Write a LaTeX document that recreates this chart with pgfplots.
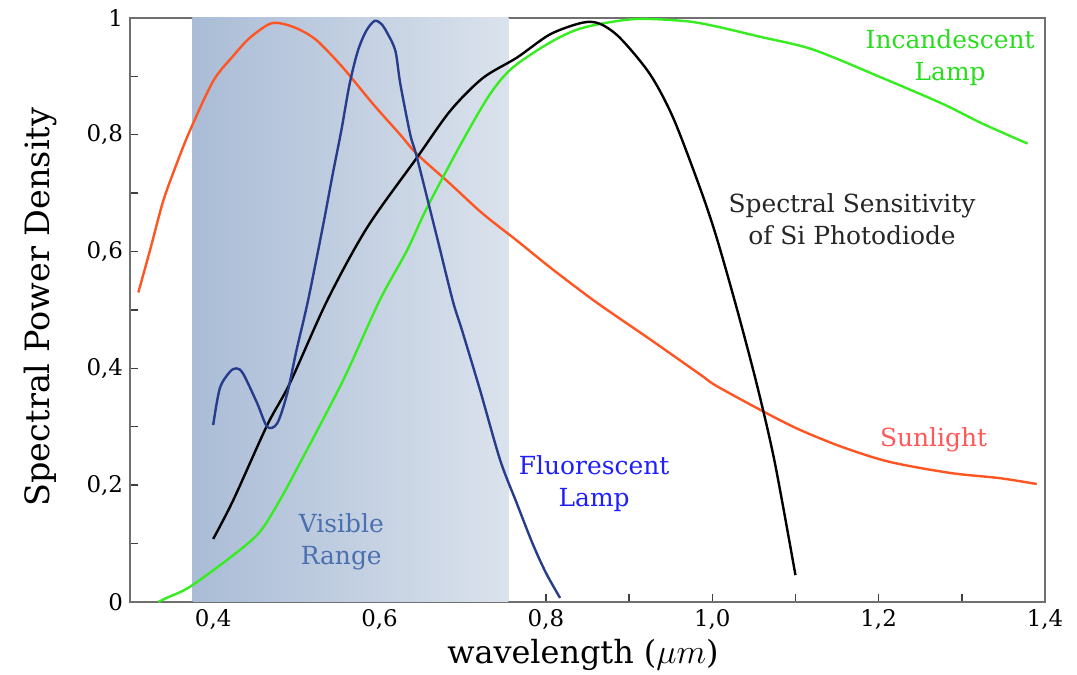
\documentclass[border=0pt]{standalone}
\usepackage{fontspec}
\setmainfont{DejaVu Serif}
\usepackage{pgfplots}
\pgfplotsset{compat=1.18}

\definecolor{sunline}{HTML}{FF5522}
\definecolor{sunlabel}{HTML}{FF5858}
\definecolor{fluoline}{HTML}{283C8C}
\definecolor{fluolabel}{HTML}{1E1EFF}
\definecolor{incline}{HTML}{38EC22}
\definecolor{inclabel}{HTML}{2ADC1E}
\definecolor{vislabel}{HTML}{4A70B0}
\definecolor{shadeL}{HTML}{AABCD6}
\definecolor{shadeR}{HTML}{DAE2EC}
\definecolor{frame}{HTML}{707070}

\begin{document}
\begin{tikzpicture}
\begin{axis}[
    scale only axis,
    width=457.5bp,
    height=292bp,
    xmin=0.3, xmax=1.4,
    ymin=0, ymax=1,
    xtick={0.4,0.6,0.8,1.0,1.2,1.4},
    minor xtick={0.5,0.7,0.9,1.1,1.3},
    ytick={0,0.2,0.4,0.6,0.8,1},
    minor ytick={0.1,0.3,0.5,0.7,0.9},
    xtick pos=bottom, ytick pos=left,
    tick align=inside,
    major tick length=4bp, minor tick length=4bp,
    tick style={black!75, line width=0.7bp},
    axis line style={frame, line width=0.8bp},
    tick label style={font=\fontsize{11.5}{13}\selectfont},
    xticklabel style={/pgf/number format/fixed zerofill},
    xlabel={wavelength ($\mu m$)},
    ylabel={Spectral Power Density},
    xlabel style={font=\fontsize{16}{19}\selectfont, at={(axis description cs:0.495,-0.091)}, anchor=center},
    ylabel style={font=\fontsize{16.8}{19}\selectfont, at={(axis description cs:-0.098,0.505)}, anchor=center},
    clip=false,
    /pgf/number format/use comma,
    /pgf/number format/fixed,
    /pgf/number format/precision=1,
    /pgf/number format/assume math mode=true,
]
% visible range band
\fill[left color=shadeL, right color=shadeR] (axis cs:0.375,0) rectangle (axis cs:0.755,1);

% sunlight
\addplot[sunline, line width=1.2bp, smooth] coordinates {
(0.310,0.530) (0.324,0.602) (0.340,0.687) (0.356,0.750) (0.372,0.807)
(0.400,0.892) (0.424,0.935) (0.444,0.966) (0.468,0.990) (0.484,0.990)
(0.504,0.980) (0.525,0.961) (0.556,0.915) (0.592,0.853) (0.625,0.800)
(0.645,0.767) (0.685,0.716) (0.724,0.665) (0.765,0.619) (0.805,0.573)
(0.853,0.521) (0.885,0.489) (0.925,0.450) (0.985,0.390) (1.005,0.370)
(1.063,0.325) (1.105,0.295) (1.157,0.265) (1.213,0.240) (1.286,0.221)
(1.346,0.212) (1.390,0.202)
};

% incandescent lamp
\addplot[incline, line width=1.2bp, smooth] coordinates {
(0.334,0.000) (0.344,0.007) (0.372,0.026) (0.424,0.080) (0.456,0.120)
(0.480,0.174) (0.504,0.237) (0.556,0.379) (0.600,0.516) (0.633,0.602)
(0.657,0.675) (0.700,0.790) (0.733,0.870) (0.760,0.915) (0.805,0.958)
(0.844,0.983) (0.905,0.998) (0.965,0.995) (1.000,0.987) (1.057,0.968)
(1.121,0.946) (1.205,0.897) (1.277,0.853) (1.325,0.819) (1.379,0.785)
};

% Si photodiode
\addplot[black, line width=1.2bp, smooth] coordinates {
(0.400,0.108) (0.424,0.174) (0.465,0.303) (0.492,0.374) (0.537,0.516)
(0.585,0.641) (0.645,0.761) (0.685,0.841) (0.724,0.897) (0.765,0.932)
(0.805,0.972) (0.844,0.992) (0.865,0.990) (0.889,0.966) (0.925,0.904)
(0.953,0.829) (0.985,0.710) (1.005,0.625) (1.030,0.500) (1.054,0.370)
(1.075,0.240) (1.100,0.046)
};

% fluorescent lamp
\addplot[fluoline, line width=1.2bp, smooth] coordinates {
(0.400,0.303) (0.408,0.366) (0.420,0.394) (0.428,0.400) (0.436,0.391)
(0.453,0.340) (0.465,0.300) (0.477,0.306) (0.489,0.357) (0.500,0.430)
(0.514,0.516) (0.532,0.644) (0.544,0.735) (0.554,0.807) (0.564,0.887)
(0.574,0.944) (0.584,0.978) (0.594,0.995) (0.602,0.990) (0.609,0.975)
(0.619,0.944) (0.625,0.887) (0.637,0.800) (0.645,0.761) (0.669,0.625)
(0.688,0.516) (0.699,0.466) (0.721,0.362) (0.745,0.243) (0.765,0.169)
(0.784,0.100) (0.800,0.050) (0.817,0.007)
};

\begin{scope}[every node/.style={align=center, anchor=center, font=\fontsize{12.5}{16}\selectfont}]
\node[text=inclabel] at (axis cs:1.286,0.932) {Incandescent\\Lamp};
\node[text=black!85] at (axis cs:1.168,0.656) {Spectral Sensitivity\\of Si Photodiode};
\node[text=sunlabel] at (axis cs:1.266,0.277) {Sunlight};
\node[text=fluolabel] at (axis cs:0.858,0.202) {Fluorescent\\Lamp};
\node[text=vislabel] at (axis cs:0.554,0.103) {Visible\\Range};
\end{scope}
\end{axis}
\pgfresetboundingbox
\path ([shift={(-65bp,-36.5bp)}]current axis.south west) rectangle ([shift={(16bp,9bp)}]current axis.north east);
\end{tikzpicture}
\end{document}
